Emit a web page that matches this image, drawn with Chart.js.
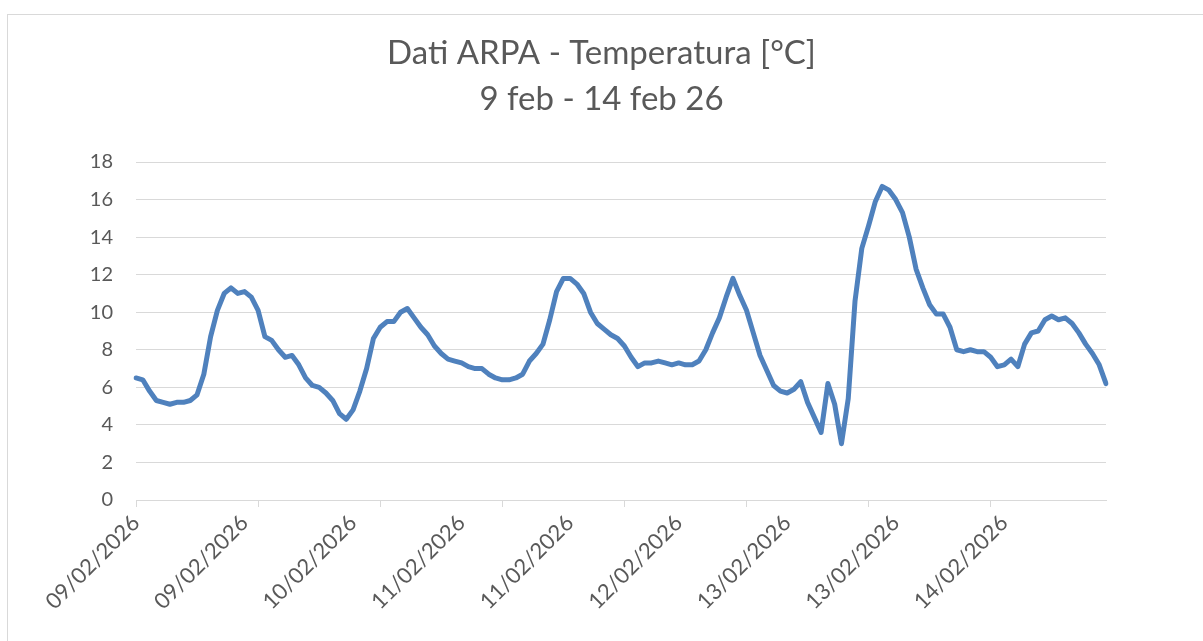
<!DOCTYPE html>
<html>
<head>
<meta charset="utf-8">
<script src="https://cdn.jsdelivr.net/npm/chart.js@4/dist/chart.umd.min.js"></script>
<style>
    html, body { margin: 0; padding: 0; background: #ffffff; overflow: hidden; }
    #wrap { position: relative; width: 1203px; height: 641px; }
    #frame { position: absolute; left: 7px; top: 14px; width: 1300px; height: 700px; border: 1px solid #d9d9d9; box-sizing: border-box; }
    #chart { position: absolute; left: 0; top: 0; }
</style>
</head>
<body>
<div id="wrap">
    <div id="frame"></div>
    <canvas id="chart" width="1203" height="641"></canvas>
</div>
<script>
// Temperatura oraria ARPA, 09/02/2026 00:00 -> 14/02/2026 23:00 (144 ore)
const startDay = 9;
const hoursCount = 144;

const temperature = [
    6.5, 6.4, 5.8, 5.3, 5.2, 5.1, 5.2, 5.2, 5.3, 5.6, 6.7, 8.7,
    10.1, 11.0, 11.3, 11.0, 11.1, 10.8, 10.1, 8.7, 8.5, 8.0, 7.6, 7.7,
    7.2, 6.5, 6.1, 6.0, 5.7, 5.3, 4.6, 4.3, 4.8, 5.8, 7.0, 8.6,
    9.2, 9.5, 9.5, 10.0, 10.2, 9.7, 9.2, 8.8, 8.2, 7.8, 7.5, 7.4,
    7.3, 7.1, 7.0, 7.0, 6.7, 6.5, 6.4, 6.4, 6.5, 6.7, 7.4, 7.8,
    8.3, 9.6, 11.1, 11.8, 11.8, 11.5, 11.0, 10.0, 9.4, 9.1, 8.8, 8.6,
    8.2, 7.6, 7.1, 7.3, 7.3, 7.4, 7.3, 7.2, 7.3, 7.2, 7.2, 7.4,
    8.0, 8.9, 9.7, 10.8, 11.8, 10.9, 10.1, 8.9, 7.7, 6.9, 6.1, 5.8,
    5.7, 5.9, 6.3, 5.2, 4.4, 3.6, 6.2, 5.1, 3.0, 5.4, 10.6, 13.4,
    14.6, 15.9, 16.7, 16.5, 16.0, 15.3, 14.0, 12.3, 11.3, 10.4, 9.9, 9.9,
    9.2, 8.0, 7.9, 8.0, 7.9, 7.9, 7.6, 7.1, 7.2, 7.5, 7.1, 8.3,
    8.9, 9.0, 9.6, 9.8, 9.6, 9.7, 9.4, 8.9, 8.3, 7.8, 7.2, 6.2
];

// etichette asse x: una ogni 16 ore, tacche ogni 18 ore
const xTickLabels = [
    '09/02/2026', '09/02/2026', '10/02/2026', '11/02/2026', '11/02/2026',
    '12/02/2026', '13/02/2026', '13/02/2026', '14/02/2026'
];
const labelEvery = 16;
const tickEvery = 18;

const yTicks = [0, 2, 4, 6, 8, 10, 12, 14, 16, 18];

const titleLines = ['Dati ARPA - Temperatura [°C]', '9 feb - 14 feb 26'];

const categories = [];
for (let h = 0; h < hoursCount; h++) {
    const day = String(startDay + Math.floor(h / 24)).padStart(2, '0');
    const hour = String(h % 24).padStart(2, '0');
    categories.push(day + '/02/2026 ' + hour + ':00');
}

const textColor = '#595959';
const gridColor = '#d9d9d9';
const fontFamily = 'Lato, "Open Sans", sans-serif';

new Chart(document.getElementById('chart'), {
    type: 'line',
    data: {
        labels: categories,
        datasets: [{
            label: 'Temperatura',
            data: temperature,
            borderColor: '#4f81bd',
            backgroundColor: '#4f81bd',
            borderWidth: 5,
            pointRadius: 0,
            tension: 0,
            borderJoinStyle: 'round',
            borderCapStyle: 'round',
            fill: false,
        }],
    },
    options: {
        responsive: false,
        animation: false,
        layout: { padding: { top: 30, left: 0, right: 0, bottom: 0 } },
        plugins: {
            legend: { display: false },
            tooltip: { enabled: false },
            title: {
                display: true,
                text: titleLines,
                color: textColor,
                font: { family: fontFamily, size: 33, weight: 'normal', lineHeight: 46 / 33 },
                padding: { top: 0, bottom: 40 },
            },
        },
        scales: {
            x: {
                type: 'category',
                offset: false,
                grid: {
                    drawOnChartArea: false,
                    drawTicks: true,
                    tickLength: 7,
                    tickColor: (ctx) => (ctx.index % tickEvery === 0 ? gridColor : 'rgba(0,0,0,0)'),
                },
                border: { display: true, color: gridColor, width: 1 },
                ticks: {
                    autoSkip: false,
                    maxRotation: 45,
                    minRotation: 45,
                    padding: 3,
                    color: textColor,
                    font: { family: fontFamily, size: 22 },
                    callback: (value, index) => (index % labelEvery === 0 ? xTickLabels[index / labelEvery] : ''),
                },
                afterFit: (scale) => { scale.height = 141; },
            },
            y: {
                min: 0,
                max: 18,
                afterBuildTicks: (scale) => { scale.ticks = yTicks.map((v) => ({ value: v })); },
                grid: { color: gridColor, lineWidth: 1, drawTicks: false },
                border: { display: false },
                ticks: {
                    padding: 23,
                    color: textColor,
                    font: { family: fontFamily, size: 20 },
                },
                afterFit: (scale) => { scale.width = 136; },
            },
            yRight: {
                position: 'right',
                display: true,
                grid: { display: false },
                border: { display: false },
                ticks: { display: false },
                afterFit: (scale) => { scale.width = 97; },
            },
        },
    },
});
</script>
</body>
</html>
